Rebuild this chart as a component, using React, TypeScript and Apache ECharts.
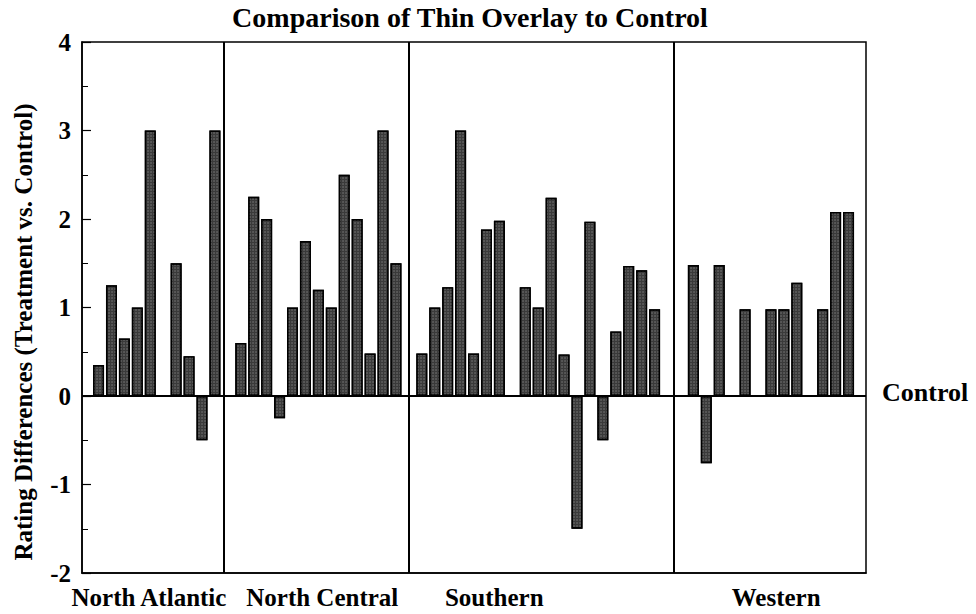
import React, { useEffect, useRef } from "react";
import * as echarts from "echarts";

// ---- data ----
const regions = ["North Atlantic", "North Central", "Southern", "Western"];
const northAtlantic = [0.35, 1.25, 0.65, 1.0, 3.0, null, 1.5, 0.45, -0.5, 3.0];
const northCentral = [0.6, 2.25, 2.0, -0.25, 1.0, 1.75, 1.2, 1.0, 2.5, 2.0, 0.48, 3.0, 1.5];
const southern = [0.48, 1.0, 1.23, 3.0, 0.48, 1.88, 1.98, null, 1.23, 1.0, 2.24, 0.47, -1.5, 1.97, -0.5, 0.73, 1.47, 1.42, 0.98];
const western = [1.48, -0.76, 1.48, null, 0.98, null, 0.98, 0.98, 1.28, null, 0.98, 2.08, 2.08];
const yTickLabels = ["-2", "-1", "0", "1", "2", "3", "4"];
const title = "Comparison of Thin Overlay to Control";
const yTitle = "Rating Differences (Treatment vs. Control)";
const zeroLabel = "Control";

// ---- layout (slot units on the x axis) ----
const regionSeries = [northAtlantic, northCentral, southern, western];
const gapsAfter = [1, 1, 2];
const labelSlots = [3.9, 17.3, 30.6, 52.4];

const FONT = '"Liberation Serif", "Times New Roman", serif';

function buildData() {
  const points: [number, number][] = [];
  const dividers: number[] = [];
  let k = 0;
  regionSeries.forEach((vals, i) => {
    vals.forEach((v) => {
      if (v !== null) points.push([k, v as number]);
      k++;
    });
    if (i < gapsAfter.length) {
      const g = gapsAfter[i];
      dividers.push(k + (g - 1) / 2 - (i === 0 ? 0.28 : 0));
      k += g;
    }
  });
  return { points, dividers };
}

export default function App() {
  const ref = useRef<HTMLDivElement>(null);
  useEffect(() => {
    document.body.style.margin = "0";
    if (!ref.current) return;
    const chart = echarts.init(ref.current, undefined, { renderer: "svg" });
    const { points, dividers } = buildData();
    chart.setOption({
      animation: false,
      backgroundColor: "#ffffff",
      grid: {
        left: 82,
        right: 110,
        top: 42,
        bottom: 41,
        show: true,
        borderColor: "#000",
        borderWidth: 1.5,
        containLabel: false,
        outerBoundsMode: "none",
      },
      graphic: [
        {
          type: "text",
          x: 470,
          y: 17,
          style: {
            text: title,
            font: `bold 28px ${FONT}`,
            fill: "#000",
            textAlign: "center",
            textVerticalAlign: "middle",
          },
        },
        {
          type: "text",
          x: 23,
          y: 332,
          rotation: Math.PI / 2,
          style: {
            text: yTitle,
            font: `bold 25px ${FONT}`,
            fill: "#000",
            textAlign: "center",
            textVerticalAlign: "middle",
          },
        },
        {
          type: "text",
          x: 882,
          y: 392,
          style: {
            text: zeroLabel,
            font: `bold 26px ${FONT}`,
            fill: "#000",
            textAlign: "left",
            textVerticalAlign: "middle",
          },
        },
      ],
      xAxis: {
        type: "value",
        min: -1.28,
        max: 59.35,
        splitLine: { show: false },
        axisTick: { show: false },
        axisLine: { show: true, onZero: false, lineStyle: { color: "#000", width: 1.5 } },
        axisLabel: {
          customValues: labelSlots,
          formatter: (val: number) => {
            let best = 0;
            labelSlots.forEach((s, i) => {
              if (Math.abs(s - val) < Math.abs(labelSlots[best] - val)) best = i;
            });
            return regions[best];
          },
          margin: 12,
          color: "#000",
          fontFamily: FONT,
          fontWeight: "bold",
          fontSize: 25,
        },
      },
      yAxis: {
        type: "value",
        min: -2,
        max: 4,
        interval: 1,
        splitLine: { show: false },
        axisLine: { show: true, onZero: false, lineStyle: { color: "#000", width: 1.5 } },
        axisTick: { show: true, inside: true, length: 9, lineStyle: { color: "#000", width: 1.2 } },
        minorTick: { show: true, splitNumber: 2, length: 6, lineStyle: { color: "#000", width: 1 } },
        axisLabel: {
          formatter: (v: number) => yTickLabels[Math.round(v) + 2],
          margin: 11,
          color: "#000",
          fontFamily: FONT,
          fontWeight: "bold",
          fontSize: 25,
        },
      },
      series: [
        {
          type: "bar",
          data: points,
          barWidth: 11,
          itemStyle: {
            color: "#3a3a3a",
            borderColor: "#000",
            borderWidth: 1.4,
            decal: {
              symbol: "circle",
              symbolSize: 0.6,
              color: "rgba(255,255,255,0.4)",
              dashArrayX: [2, 1],
              dashArrayY: [2, 1],
              rotation: 0,
            },
          },
          markLine: {
            silent: true,
            symbol: "none",
            label: { show: false },
            lineStyle: { color: "#000", type: "solid", width: 2 },
            data: [{ yAxis: 0 }, ...dividers.map((d) => ({ xAxis: d }))],
          },
        },
      ],
    });
    return () => chart.dispose();
  }, []);
  return <div ref={ref} style={{ width: 976, height: 614 }} />;
}
